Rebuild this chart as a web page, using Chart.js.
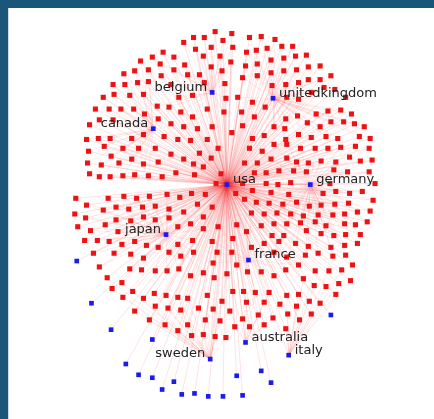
<!DOCTYPE html>
<html>
<head>
<meta charset="utf-8">
<script src="https://cdn.jsdelivr.net/npm/chart.js@4.4.1/dist/chart.umd.min.js"></script>
<style>
    html, body { margin: 0; padding: 0; }
    body { width: 434px; height: 419px; background: #1a5677; position: relative; overflow: hidden; }
    #panel { position: absolute; left: 8px; top: 8px; width: 426px; height: 411px; background: #fff; }
    #edge { position: absolute; left: 8px; top: 8px; width: 1px; height: 411px; background: #cfdbe3; z-index: 2; }
</style>
</head>
<body>
<div id="panel"><canvas id="graph"></canvas></div>
<div id="edge"></div>
<script>
// Labelled country nodes (usa is the hub everything links to)
const countryNames = ['usa', 'belgium', 'unitedkingdom', 'canada', 'germany', 'japan', 'france', 'australia', 'italy', 'sweden'];
const countryX = [227, 212, 274, 152, 312, 165, 249, 246, 290, 210];
const countryY = [184, 90, 96, 127, 184, 235, 261, 345, 358, 362];

// Unlabelled blue nodes
const otherBlue = [
    [74, 262], [89, 305], [109, 332], [151, 342], [333, 317], [124, 367], [137, 378], [151, 381], [173, 385],
    [161, 393], [181, 398], [194, 397], [208, 400], [223, 400], [243, 399], [237, 379], [262, 374], [272, 386]
];

// Red nodes, grouped by the second country they link to
const redBelgium = [
    [215, 28], [232, 30], [193, 34], [204, 34], [183, 39], [223, 37], [211, 44], [233, 44], [195, 46], [162, 49],
    [151, 54], [173, 54], [203, 53], [220, 53], [159, 61], [184, 62], [211, 64], [231, 59], [160, 73], [173, 67],
    [187, 72], [199, 72], [222, 68], [170, 82], [204, 80], [225, 81], [178, 95], [192, 93], [226, 96], [156, 104],
    [168, 105], [180, 110], [192, 115], [207, 107], [224, 110]
];
const redUK = [
    [250, 34], [262, 33], [276, 36], [257, 47], [268, 45], [283, 43], [294, 43], [247, 49], [285, 55], [297, 53],
    [308, 52], [272, 57], [246, 63], [258, 61], [310, 64], [322, 63], [272, 70], [285, 68], [298, 67], [243, 75],
    [258, 73], [273, 83], [287, 82], [300, 80], [310, 77], [322, 77], [333, 73], [238, 95], [253, 100], [288, 95],
    [300, 97], [313, 90], [326, 85], [337, 87], [348, 95], [242, 110], [255, 115], [266, 105], [287, 117], [299, 114],
    [318, 112], [330, 109], [343, 108], [354, 112], [243, 124], [265, 134], [275, 125], [286, 127], [300, 133], [309, 121],
    [322, 125], [333, 120], [346, 120], [357, 122], [367, 125], [253, 137], [287, 138], [313, 136], [328, 135], [340, 137],
    [362, 135], [373, 137]
];
const redCanada = [
    [139, 58], [122, 71], [133, 68], [147, 67], [111, 82], [123, 82], [136, 80], [147, 79], [101, 95], [112, 92],
    [128, 93], [142, 92], [93, 107], [107, 107], [119, 107], [132, 107], [143, 112], [87, 123], [97, 118], [111, 118],
    [84, 138], [96, 137], [108, 137], [130, 137], [142, 133], [86, 150], [102, 145], [121, 147], [137, 147], [85, 162],
    [99, 164], [109, 155], [117, 162], [130, 158], [142, 163], [87, 173], [97, 176], [108, 176], [121, 175], [133, 174],
    [147, 175]
];
const redCenter = [
    [157, 117], [170, 122], [183, 125], [197, 127], [212, 125], [232, 131], [163, 135], [177, 138], [190, 139], [207, 138],
    [154, 147], [199, 152], [211, 157], [218, 147], [157, 161], [170, 153], [183, 158], [193, 163], [203, 166], [161, 176],
    [175, 172], [194, 174], [221, 173], [216, 183], [250, 147], [245, 162], [258, 162], [255, 172], [243, 183], [236, 193],
    [253, 190], [205, 194]
];
const redGermany = [
    [263, 150], [275, 143], [288, 143], [302, 147], [317, 147], [330, 147], [343, 146], [358, 145], [372, 147],
    [272, 158], [288, 157], [298, 161], [310, 162], [323, 160], [338, 161], [352, 156], [363, 160], [375, 159],
    [267, 172], [280, 170], [295, 170], [308, 171], [336, 169], [350, 171], [372, 171],
    [267, 183], [279, 184], [292, 182], [332, 183], [378, 183],
    [272, 192], [290, 194], [325, 193], [338, 191], [352, 193], [365, 191],
    [257, 202], [270, 203], [284, 204], [298, 202], [311, 206], [323, 205], [337, 204], [351, 203], [376, 200],
    [265, 214], [278, 213], [292, 214], [305, 216], [320, 215], [335, 215], [347, 214], [360, 212], [373, 211],
    [262, 226], [275, 224], [288, 224], [302, 223], [317, 222], [328, 226], [347, 224], [358, 225], [370, 222],
    [273, 236], [285, 236], [308, 231], [323, 234], [336, 236], [348, 235], [363, 235],
    [280, 242], [297, 244], [310, 247], [333, 248], [347, 246], [360, 244],
    [288, 258], [307, 256], [320, 254], [335, 257], [348, 256], [355, 266]
];
const redFrance = [
    [245, 199], [252, 213], [237, 225], [247, 232], [233, 239], [265, 244], [232, 253], [252, 248], [275, 253], [237, 266],
    [248, 273], [262, 273], [275, 277], [287, 271], [300, 266], [218, 227], [212, 242], [217, 253], [213, 264]
];
const redJapan = [
    [73, 198], [106, 198], [122, 196], [135, 198], [148, 196], [166, 194], [179, 197], [191, 193],
    [84, 205], [101, 210], [114, 207], [127, 209], [141, 207], [154, 206], [168, 209], [183, 212], [197, 204], [212, 207],
    [72, 214], [83, 218], [114, 220], [129, 221], [142, 217], [154, 220], [168, 218], [190, 224], [203, 217], [203, 229],
    [75, 227], [88, 231], [103, 225], [116, 232], [177, 227],
    [82, 241], [95, 241], [107, 242], [120, 245], [133, 242], [145, 246], [157, 248], [177, 245], [192, 241],
    [91, 254], [112, 254], [129, 255], [142, 259], [168, 253], [180, 257], [193, 253],
    [97, 268], [128, 270], [140, 271], [154, 272], [166, 272], [178, 270], [190, 277], [203, 274]
];
const redSweden = [
    [105, 279], [120, 284], [110, 290], [131, 293], [121, 299], [142, 300], [153, 295], [165, 297], [177, 299], [187, 300],
    [207, 297], [222, 303], [133, 313], [154, 308], [167, 310], [180, 312], [198, 310], [213, 311], [220, 323], [148, 322],
    [164, 327], [187, 327], [205, 322], [177, 333], [191, 338], [203, 337], [215, 339], [226, 340], [214, 279], [227, 275]
];
const redAustralia = [
    [233, 293], [244, 293], [256, 294], [270, 294], [247, 304], [265, 304], [281, 306], [230, 313], [243, 321], [259, 317],
    [274, 320], [235, 329], [250, 329], [265, 327]
];
const redItaly = [
    [305, 280], [317, 272], [331, 272], [344, 271], [353, 282], [341, 285], [288, 297], [300, 296], [316, 287], [328, 288],
    [338, 296], [298, 308], [311, 303], [322, 305], [289, 316], [301, 322], [313, 316], [287, 331]
];

const redGroups = [
    ['belgium', redBelgium],
    ['unitedkingdom', redUK],
    ['canada', redCanada],
    ['germany', redGermany],
    ['japan', redJapan],
    ['france', redFrance],
    ['sweden', redSweden],
    ['australia', redAustralia],
    ['italy', redItaly],
    [null, redCenter]
];

const pt = p => ({ x: p[0], y: p[1] });
const gapPt = () => ({ x: null, y: null });
const countryPts = countryNames.map((n, i) => ({ x: countryX[i], y: countryY[i] }));
const allRed = redGroups.flatMap(g => g[1]);

// every node links to the hub (usa)
const hubEdges = [];
[...countryPts.slice(1), ...otherBlue.map(pt), ...allRed.map(pt)].forEach(p => {
    hubEdges.push({ ...countryPts[0] }, p, gapPt());
});

// red nodes also link to their second country
const sideEdges = [];
redGroups.forEach(([name, nodes]) => {
    if (!name) return;
    const c = countryPts[countryNames.indexOf(name)];
    nodes.forEach(p => sideEdges.push({ ...c }, pt(p), gapPt()));
});

const nodeLabels = {
    id: 'nodeLabels',
    afterDatasetsDraw(chart) {
        const { ctx, scales: { x, y } } = chart;
        ctx.save();
        ctx.font = '13px "DejaVu Sans"';
        ctx.fillStyle = '#222';
        ctx.textBaseline = 'middle';
        countryNames.forEach((name, i) => {
            const px = x.getPixelForValue(countryX[i]);
            const py = y.getPixelForValue(countryY[i]);
            const left = countryX[i] < countryX[0];
            ctx.textAlign = left ? 'right' : 'left';
            ctx.fillText(name, left ? px - 5 : px + 6, py - 5);
        });
        ctx.restore();
    }
};

new Chart(document.getElementById('graph'), {
    type: 'scatter',
    data: {
        datasets: [
            {
                label: 'countries',
                data: [...countryPts, ...otherBlue.map(pt)],
                pointStyle: 'rect',
                pointRadius: 3.3,
                backgroundColor: '#1b1bf0',
                borderWidth: 0,
                order: 0
            },
            {
                label: 'entities',
                data: allRed.map(pt),
                pointStyle: 'rect',
                pointRadius: 3.6,
                backgroundColor: '#ef1212',
                borderWidth: 0,
                order: 1
            },
            {
                label: 'hub links',
                data: hubEdges,
                showLine: true,
                pointRadius: 0,
                borderColor: 'rgba(240,40,40,0.13)',
                borderWidth: 1,
                segment: { borderColor: () => 'rgba(240,40,40,0.13)' },
                order: 2
            },
            {
                label: 'country links',
                data: sideEdges,
                showLine: true,
                pointRadius: 0,
                borderColor: 'rgba(240,40,40,0.09)',
                borderWidth: 1,
                segment: { borderColor: () => 'rgba(240,40,40,0.09)' },
                order: 3
            }
        ]
    },
    options: {
        responsive: true,
        maintainAspectRatio: false,
        animation: false,
        layout: { padding: 0 },
        plugins: {
            legend: { display: false },
            tooltip: { enabled: false }
        },
        scales: {
            x: { type: 'linear', min: 8, max: 434, display: false },
            y: { type: 'linear', min: 8, max: 419, reverse: true, display: false }
        }
    },
    plugins: [nodeLabels]
});
</script>
</body>
</html>
